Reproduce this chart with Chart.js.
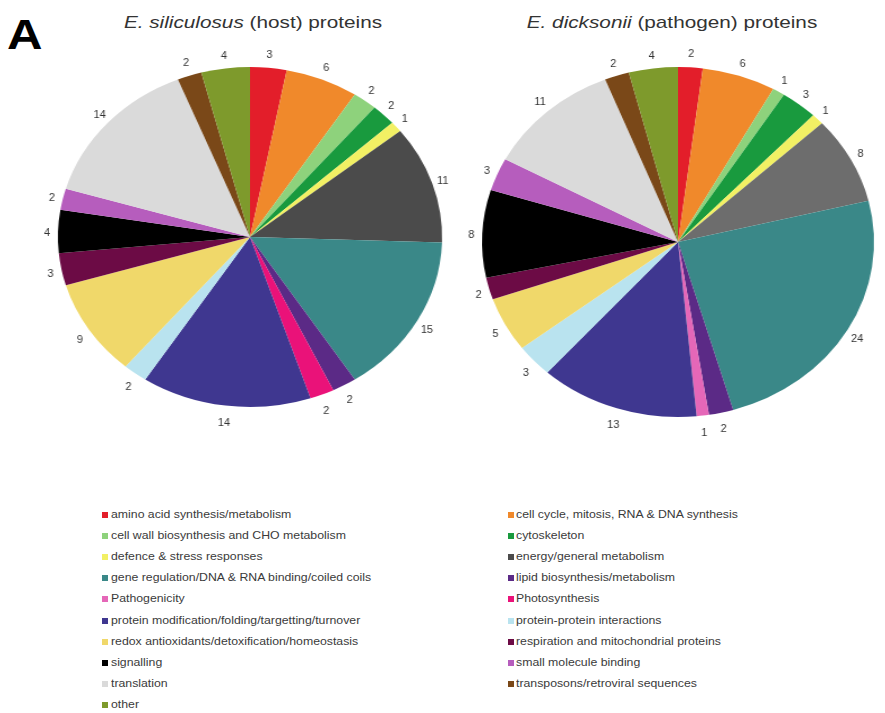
<!DOCTYPE html>
<html>
<head>
<meta charset="utf-8">
<script src="https://cdn.jsdelivr.net/npm/chart.js@4/dist/chart.umd.min.js"></script>
<style>
  body { margin: 0; background: #fff; font-family: "Liberation Sans", Arial, sans-serif; }
  #page { position: relative; width: 885px; height: 713px; overflow: hidden; background: #fff; }
  .panel { position: absolute; font-size: 42px; font-weight: bold; color: #000; left: 7px; top: 11px; line-height: 48px; transform: scaleX(1.17); transform-origin: left top; }
  .title { position: absolute; top: 13px; font-size: 17px; color: #333; white-space: nowrap; transform: translateX(-50%) scaleX(1.22); }
  .pieBox { position: absolute; }
  .pieBox canvas { display: block; }
  .leg { position: absolute; font-size: 10.5px; color: #3a3a3a; white-space: nowrap; transform: scaleX(1.17); transform-origin: left top; }
  .sq { position: absolute; width: 6px; height: 6px; }
</style>
</head>
<body>
<div id="page">
  <div class="panel">A</div>
  <div class="title" style="left:253px"><i>E. siliculosus</i> (host) proteins</div>
  <div class="title" style="left:672px"><i>E. dicksonii</i> (pathogen) proteins</div>
  <div class="pieBox" style="left:55px; top:42px; width:390px; height:390px; transform:scaleX(1.13);">
    <canvas id="pieL" width="390" height="390"></canvas>
  </div>
  <div class="pieBox" style="left:478px; top:42px; width:400px; height:400px; transform:scaleX(1.12);">
    <canvas id="pieR" width="400" height="400"></canvas>
  </div>
  <div id="legend"></div>
</div>
<script>
// categories in legend / slice order
const categories = [
  'amino acid synthesis/metabolism',
  'cell cycle, mitosis, RNA & DNA synthesis',
  'cell wall biosynthesis and CHO metabolism',
  'cytoskeleton',
  'defence & stress responses',
  'energy/general metabolism',
  'gene regulation/DNA & RNA binding/coiled coils',
  'lipid biosynthesis/metabolism',
  'Pathogenicity',
  'Photosynthesis',
  'protein modification/folding/targetting/turnover',
  'protein-protein interactions',
  'redox antioxidants/detoxification/homeostasis',
  'respiration and mitochondrial proteins',
  'signalling',
  'small molecule binding',
  'translation',
  'transposons/retroviral sequences',
  'other'
];

// host (E. siliculosus) counts
const hostCounts = [3, 6, 2, 2, 1, 11, 15, 2, 0, 2, 14, 2, 9, 3, 4, 2, 14, 2, 4];
// pathogen (E. dicksonii) counts
const pathogenCounts = [2, 6, 1, 3, 1, 8, 24, 2, 1, 0, 13, 3, 5, 2, 8, 3, 11, 2, 4];

const colors = [
  '#e31e2a', '#f0892b', '#8ed27c', '#199a3e', '#f2f064',
  '#4b4b4b', '#3a8888', '#5b2a86', '#e567b8', '#ea1279',
  '#3f3790', '#b9e3ef', '#f0d86a', '#6c0b45', '#000000',
  '#b65dbd', '#dadada', '#7a4818', '#7e9a2c'
];
const colorsR = colors.slice();
colorsR[5] = '#6d6d6d';

// value labels outside each slice, drawn unstretched
const outLabels = {
  id: 'outLabels',
  afterDatasetsDraw(chart, args, opts) {
    const ctx = chart.ctx;
    const meta = chart.getDatasetMeta(0);
    const data = chart.data.datasets[0].data;
    ctx.save();
    ctx.font = '11px "Liberation Sans", Arial, sans-serif';
    ctx.fillStyle = '#333';
    ctx.textAlign = 'center';
    ctx.textBaseline = 'middle';
    meta.data.forEach((arc, i) => {
      if (!data[i]) return;
      const p = arc.getProps(['x', 'y', 'startAngle', 'endAngle', 'outerRadius'], true);
      const mid = (p.startAngle + p.endAngle) / 2;
      const x = p.x + Math.cos(mid) * (p.outerRadius + opts.dx / opts.sx);
      const y = p.y + Math.sin(mid) * (p.outerRadius + opts.dy) + opts.shift;
      ctx.save();
      ctx.translate(x, y);
      ctx.scale(1 / opts.sx, 1);
      ctx.fillText(String(data[i]), 0, 0);
      ctx.restore();
    });
    ctx.restore();
  }
};

function makePie(id, values, cols, sx) {
  return new Chart(document.getElementById(id), {
    type: 'pie',
    data: {
      labels: categories,
      datasets: [{ data: values, backgroundColor: cols, borderWidth: 0 }]
    },
    options: {
      responsive: false,
      animation: false,
      layout: { padding: 25 },
      plugins: {
        legend: { display: false },
        tooltip: { enabled: false },
        outLabels: { dx: 11, dy: 15, shift: 2, sx: sx }
      }
    },
    plugins: [outLabels]
  });
}

makePie('pieL', hostCounts, colors, 1.13);
makePie('pieR', pathogenCounts, colorsR, 1.12);

// two-column legend, row-major like the original
const legend = document.getElementById('legend');
categories.forEach((name, i) => {
  const col = i % 2;
  const row = Math.floor(i / 2);
  const top = 508 + row * 21.1;
  const sq = document.createElement('div');
  sq.className = 'sq';
  sq.style.background = colors[i];
  sq.style.left = (col ? 508 : 102) + 'px';
  sq.style.top = (top + 4) + 'px';
  legend.appendChild(sq);
  const d = document.createElement('div');
  d.className = 'leg';
  d.style.left = (col ? 516 : 111) + 'px';
  d.style.top = top + 'px';
  d.textContent = name;
  legend.appendChild(d);
});
</script>
</body>
</html>
